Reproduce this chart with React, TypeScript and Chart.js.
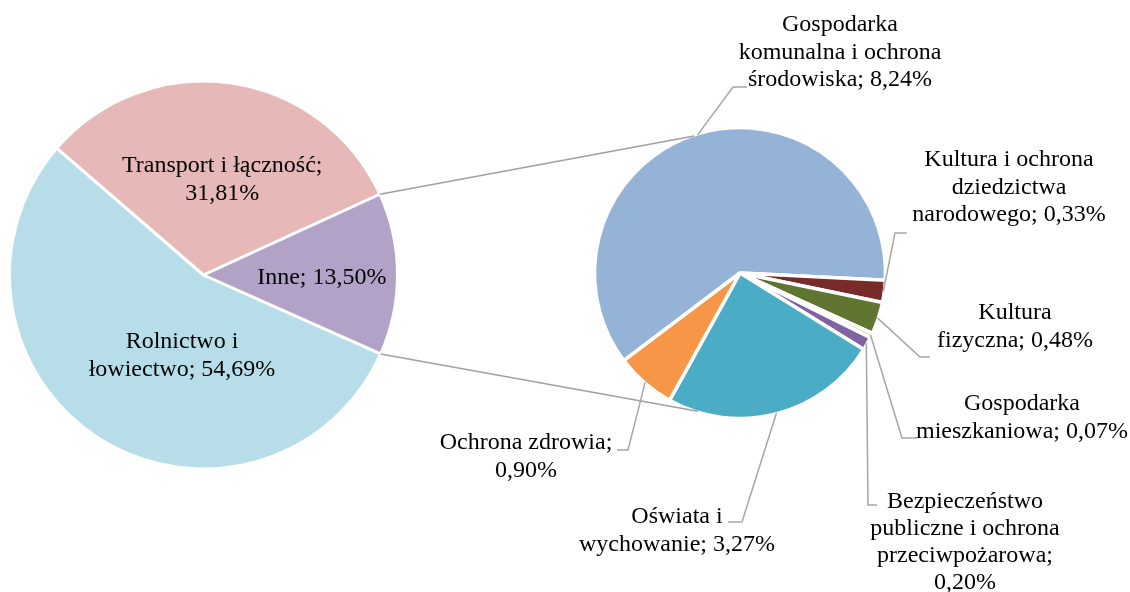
import React, { useEffect, useRef } from "react";
import { Chart, registerables } from "chart.js";

Chart.register(...registerables);

// ---- data ----
const mainNames = ["Rolnictwo i\nłowiectwo", "Transport i łączność", "Inne"];
const mainValues = [54.69, 31.81, 13.5];
const mainValueBreak = [false, true, false];

const subNames = [
  "Gospodarka\nkomunalna i ochrona\nśrodowiska",
  "Kultura i ochrona\ndziedzictwa\nnarodowego",
  "Kultura\nfizyczna",
  "Gospodarka\nmieszkaniowa",
  "Bezpieczeństwo\npubliczne i ochrona\nprzeciwpożarowa",
  "Oświata i\nwychowanie",
  "Ochrona zdrowia",
];
const subValues = [8.24, 0.33, 0.48, 0.07, 0.2, 3.27, 0.9];
const subValueBreak = [false, false, false, false, true, false, true];

// ---- styles / layout ----
const mainColors = ["#B7DEE8", "#E6B9B8", "#B3A2C7"];
const subColors = ["#95B3D7", "#772C2A", "#5F7530", "#C3D69B", "#8064A2", "#4BACC6", "#F79646"];
const FONT = '24px "Liberation Serif", "Times New Roman", serif';
const LINE_H = 27.6;
const LEADER = "#A6A6A6";

// left label placement: angle shift from slice middle (deg), radius fraction
const mainLabelPlace = [
  { dA: -17.5, f: 0.43 },
  { dA: 3, f: 0.5 },
  { dA: 1.7, f: 0.61 },
];
// right label placement: text block centre x, first line centre y, line step, elbow and end of leader
const subLabelPlace = [
  { cx: 840, y0: 25, lh: LINE_H, elbow: [733, 87], end: [747, 87] },
  { cx: 1009, y0: 160, lh: LINE_H, elbow: [895, 233], end: [907, 233] },
  { cx: 1015, y0: 313, lh: LINE_H, elbow: [920, 357], end: [930, 357] },
  { cx: 1022, y0: 404, lh: LINE_H, elbow: [902, 438], end: [917, 438] },
  { cx: 965, y0: 502, lh: 26.8, elbow: [868, 505], end: [877, 505] },
  { cx: 677, y0: 517, lh: LINE_H, elbow: [742, 522], end: [728, 522] },
  { cx: 526, y0: 443, lh: LINE_H, elbow: [628, 450], end: [617, 450] },
];
// where the pie-to-pie connectors meet the secondary pie (deg, canvas)
const connectorAngles = [-108.5, 107];

const fmt = (v: number) => v.toFixed(2).replace(".", ",") + "%";
const labelLines = (name: string, v: number, brk: boolean) =>
  (name + (brk ? ";\n" : "; ") + fmt(v)).split("\n");

function drawLines(ctx: CanvasRenderingContext2D, lines: string[], cx: number, y0: number, lh: number) {
  ctx.save();
  ctx.font = FONT;
  ctx.fillStyle = "#000";
  ctx.textAlign = "center";
  ctx.textBaseline = "middle";
  lines.forEach((l, i) => ctx.fillText(l, cx, y0 + i * lh));
  ctx.restore();
}

export default function App() {
  const ref1 = useRef<HTMLCanvasElement>(null);
  const ref2 = useRef<HTMLCanvasElement>(null);

  useEffect(() => {
    const mainLabels = {
      id: "mainLabels",
      afterDatasetsDraw(chart: any) {
        const ctx = chart.ctx;
        const arcs = chart.getDatasetMeta(0).data;
        arcs.forEach((arc: any, i: number) => {
          const mid = (arc.startAngle + arc.endAngle) / 2 + (mainLabelPlace[i].dA * Math.PI) / 180;
          const r = arc.outerRadius * mainLabelPlace[i].f;
          const lines = labelLines(mainNames[i], mainValues[i], mainValueBreak[i]);
          const cx = arc.x + Math.cos(mid) * r;
          const cy = arc.y + Math.sin(mid) * r;
          drawLines(ctx, lines, cx, cy - ((lines.length - 1) * LINE_H) / 2, LINE_H);
        });
      },
    };

    const c1 = new Chart(ref1.current!, {
      type: "pie",
      data: {
        labels: mainNames,
        datasets: [
          {
            data: mainValues,
            backgroundColor: mainColors,
            borderColor: "#FFFFFF",
            borderWidth: 3,
          },
        ],
      },
      options: {
        responsive: false,
        animation: false,
        events: [],
        rotation: 114,
        radius: 194,
        layout: { padding: { left: 3.5, right: 726.5, top: 75, bottom: 117 } },
        plugins: { legend: { display: false }, tooltip: { enabled: false } },
      },
      plugins: [mainLabels],
    });

    const subLabels = {
      id: "subLabels",
      afterDatasetsDraw(chart: any) {
        const ctx = chart.ctx;
        const arcs = chart.getDatasetMeta(0).data;
        const a0 = arcs[0];
        const R = a0.outerRadius - 1;
        // connectors between pies
        const inne = c1.getDatasetMeta(0).data[2] as any;
        const pts = [inne.startAngle, inne.endAngle].map((a: number) => [
          inne.x + Math.cos(a) * inne.outerRadius,
          inne.y + Math.sin(a) * inne.outerRadius,
        ]);
        ctx.save();
        ctx.strokeStyle = "#A0A0A0";
        ctx.lineWidth = 1.5;
        connectorAngles.forEach((deg, k) => {
          const a = (deg * Math.PI) / 180;
          ctx.beginPath();
          ctx.moveTo(pts[k][0], pts[k][1]);
          ctx.lineTo(a0.x + Math.cos(a) * R, a0.y + Math.sin(a) * R);
          ctx.stroke();
        });
        // leaders
        ctx.strokeStyle = LEADER;
        arcs.forEach((arc: any, i: number) => {
          const mid = (arc.startAngle + arc.endAngle) / 2;
          const p = subLabelPlace[i];
          ctx.beginPath();
          ctx.moveTo(arc.x + Math.cos(mid) * R, arc.y + Math.sin(mid) * R);
          ctx.lineTo(p.elbow[0], p.elbow[1]);
          ctx.lineTo(p.end[0], p.end[1]);
          ctx.stroke();
        });
        ctx.restore();
        arcs.forEach((arc: any, i: number) => {
          const p = subLabelPlace[i];
          drawLines(ctx, labelLines(subNames[i], subValues[i], subValueBreak[i]), p.cx, p.y0, p.lh);
        });
      },
    };

    const c2 = new Chart(ref2.current!, {
      type: "pie",
      data: {
        labels: subNames,
        datasets: [
          {
            data: subValues,
            backgroundColor: subColors,
            borderColor: "#FFFFFF",
            borderWidth: 3.5,
          },
        ],
      },
      options: {
        responsive: false,
        animation: false,
        events: [],
        rotation: 233,
        radius: 145.5,
        layout: { padding: { left: 590, right: 240, top: 123, bottom: 169 } },
        plugins: { legend: { display: false }, tooltip: { enabled: false } },
      },
      plugins: [subLabels],
    });

    return () => {
      c2.destroy();
      c1.destroy();
    };
  }, []);

  const cv: React.CSSProperties = { position: "absolute", left: 0, top: 0, width: 1130, height: 592 };
  return (
    <div style={{ position: "absolute", left: 0, top: 0, width: 1130, height: 592, background: "#fff" }}>
      <canvas ref={ref1} width={1130} height={592} style={cv} />
      <canvas ref={ref2} width={1130} height={592} style={cv} />
    </div>
  );
}
